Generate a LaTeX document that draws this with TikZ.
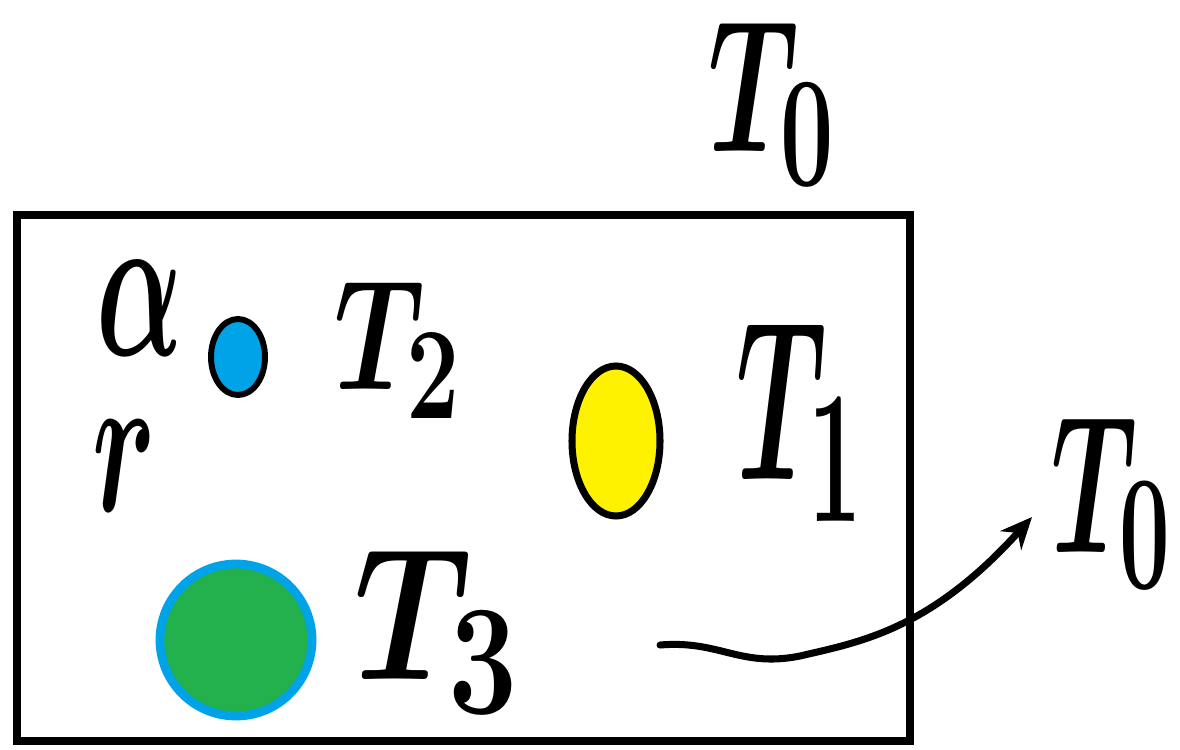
\documentclass[tikz,border=0pt]{standalone}
\usetikzlibrary{arrows.meta}
\definecolor{pblue}{RGB}{0,162,232}
\definecolor{pyellow}{RGB}{255,242,0}
\definecolor{pgreen}{RGB}{34,177,76}
\begin{document}
\begin{tikzpicture}[x=0.02cm,y=-0.02cm,
  lbl/.style={inner sep=0pt,font=\Huge\boldmath,xscale=2.6,yscale=3.6},
  frame/.style={draw=black,line width=5pt},
  blob/.style={line width=#1},
  flow/.style={draw=black,line width=4pt,line cap=round,-{Stealth[length=18pt,width=16pt]}}]
\useasboundingbox (0,0) rectangle (1180,750);
\draw[frame] (17,215) rectangle (910,741);
\draw[blob=3.4pt,fill=pblue,draw=black] (238,357) ellipse [x radius=27,y radius=38];
\draw[blob=4pt,fill=pyellow,draw=black] (616,441) ellipse [x radius=44,y radius=75];
\draw[blob=5pt,fill=pgreen,draw=pblue] (236,640) circle [radius=76];
\node[lbl,yscale=1.2] (t0a) at (772,104) {$T_0$};
\node[lbl] (t2) at (398,350) {$T_2$};
\node[lbl,yscale=1.45] (t1) at (800,422) {$T_1$};
\node[lbl,xscale=1.3,yscale=1.2] (t3) at (438,632) {$T_3$};
\node[lbl,xscale=0.95,yscale=1.25] (t0b) at (1112,503) {$T_0$};
\node[lbl,xscale=1.0,yscale=1.35] (al) at (140,308) {$\alpha$};
\node[lbl,xscale=1.0,yscale=1.3] (rr) at (124,466) {$r$};
\coordinate (s) at (660,645);
\coordinate (e) at (1032,517);
\draw[flow] (s) .. controls (720,640) and (740,668) .. (800,656)
  .. controls (860,642) and (930,630) .. (e);
\end{tikzpicture}
\end{document}
